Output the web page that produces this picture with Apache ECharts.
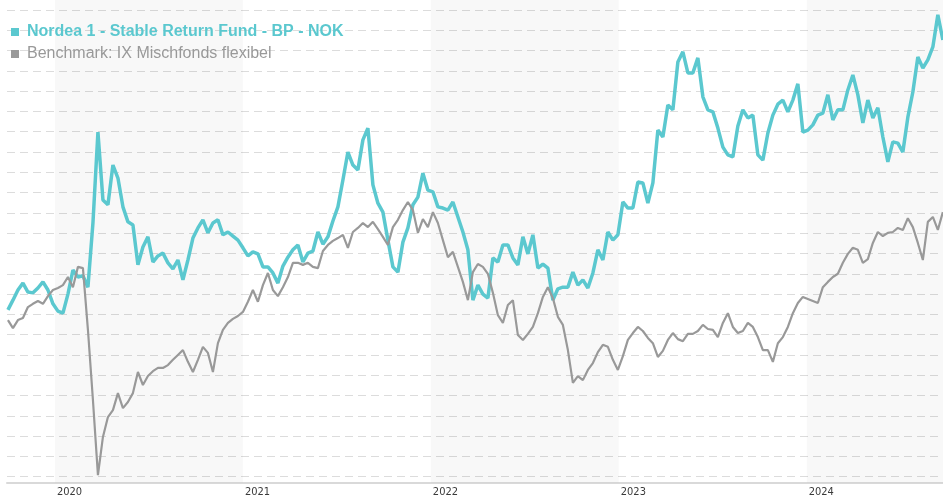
<!DOCTYPE html>
<html>
<head>
<meta charset="utf-8">
<script src="https://cdn.jsdelivr.net/npm/echarts@6/dist/echarts.min.js"></script>
<style>
  html, body { margin: 0; padding: 0; background: #fff; }
  #chart { width: 943px; height: 500px; }
</style>
</head>
<body>
<div id="chart"></div>
<script>
  // Wertentwicklung (indexiert), Stuetzpunkte ca. alle 9,7 Tage ab Okt. 2019
  var startYear = 2019.75;
  var stepYears = 0.0266;
  var xMin = 2019.745;
  var xMax = 2024.725;
  var yearTicks = [2020, 2021, 2022, 2023, 2024];
  var shadedYears = [2020, 2022, 2024];

  var fundName = 'Nordea 1 - Stable Return Fund - BP - NOK';
  var benchName = 'Benchmark: IX Mischfonds flexibel';

  var fundValues = [
    101.1, 103.5, 106.0, 107.7, 105.5, 105.3, 106.5, 108.0, 106.0, 102.6,
    100.8, 100.3, 105.0, 110.9, 109.2, 109.5, 106.7, 122.5, 144.9, 128.2,
    127.0, 136.8, 133.6, 126.5, 122.8, 122.0, 112.2, 116.6, 119.1, 112.9,
    114.4, 115.1, 112.7, 111.2, 113.4, 108.5, 113.4, 118.8, 121.3, 123.3,
    120.1, 122.5, 123.3, 119.6, 120.3, 119.3, 118.3, 116.4, 114.4, 115.4,
    114.9, 111.7, 111.7, 110.2, 107.7, 111.9, 114.1, 115.9, 117.1, 112.9,
    115.1, 115.6, 120.3, 117.3, 119.1, 123.0, 126.5, 133.1, 140.0, 136.8,
    135.6, 143.0, 145.9, 131.9, 127.4, 125.2, 118.3, 111.7, 110.4, 117.8,
    121.3, 127.0, 128.9, 134.8, 130.6, 130.2, 126.5, 126.2, 125.7, 127.7,
    124.0, 120.3, 115.9, 103.5, 107.2, 105.0, 104.0, 113.9, 112.9, 117.1,
    117.1, 113.9, 112.2, 119.1, 114.9, 119.6, 111.4, 112.4, 111.4, 103.5,
    106.3, 106.7, 106.7, 110.4, 107.2, 108.5, 106.5, 110.2, 115.9, 113.4,
    120.3, 118.3, 119.6, 127.7, 126.2, 126.2, 132.6, 132.4, 127.4, 132.4,
    145.4, 143.7, 151.6, 150.4, 162.2, 164.7, 159.5, 159.5, 163.2, 153.6,
    150.4, 149.9, 145.9, 141.2, 139.3, 138.8, 146.4, 150.4, 148.4, 149.1,
    139.3, 138.0, 144.7, 149.1, 151.8, 152.8, 149.9, 152.8, 156.8, 144.9,
    145.4, 146.7, 149.1, 149.6, 154.1, 147.9, 150.4, 150.4, 155.3, 159.0,
    154.1, 147.2, 152.8, 148.4, 150.9, 143.7, 137.6, 142.5, 142.2, 140.0,
    148.6, 154.8, 163.4, 160.7, 162.7, 165.9, 173.8, 167.6
  ];

  var benchValues = [
    98.6, 96.6, 98.6, 99.1, 101.8, 102.6, 103.3, 102.6, 104.5, 106.0,
    106.5, 107.2, 109.2, 106.7, 111.7, 111.4, 96.2, 78.9, 60.4, 69.8,
    74.7, 76.4, 80.6, 76.9, 78.4, 80.6, 85.8, 82.6, 84.8, 86.0,
    86.8, 86.8, 87.5, 88.8, 90.0, 91.2, 88.3, 85.8, 88.8, 92.0,
    90.5, 85.8, 92.9, 96.2, 97.9, 98.9, 99.6, 100.6, 103.1, 106.0,
    103.1, 107.2, 110.2, 106.0, 104.5, 106.7, 109.2, 112.7, 112.7, 112.2,
    112.7, 111.7, 111.4, 115.6, 117.1, 118.1, 118.8, 119.6, 116.4, 120.3,
    121.3, 122.5, 121.5, 122.8, 121.0, 119.1, 117.1, 121.5, 123.3, 125.7,
    127.7, 125.7, 120.1, 123.5, 121.5, 125.2, 122.5, 118.3, 114.1, 115.4,
    111.7, 108.0, 103.5, 110.4, 112.4, 111.7, 110.0, 105.3, 99.8, 97.9,
    102.3, 103.5, 94.9, 93.7, 95.2, 96.9, 100.3, 104.3, 106.7, 104.0,
    99.4, 97.4, 91.2, 83.1, 84.8, 83.8, 86.3, 88.0, 90.7, 92.5,
    92.0, 88.8, 86.3, 89.7, 93.7, 95.4, 96.9, 95.9, 94.2, 92.9,
    89.5, 91.0, 93.7, 95.4, 93.9, 93.4, 95.2, 95.2, 95.9, 97.4,
    96.4, 96.2, 94.4, 97.9, 100.3, 96.9, 95.4, 95.9, 97.9, 96.9,
    94.4, 91.2, 91.2, 88.3, 92.9, 94.4, 96.9, 100.3, 102.8, 104.3,
    103.8, 103.3, 102.8, 106.7, 108.0, 109.2, 110.0, 112.7, 114.9, 116.4,
    115.9, 112.7, 113.6, 117.6, 120.3, 119.3, 120.1, 120.3, 121.3, 120.8,
    123.7, 121.5, 117.6, 113.4, 122.8, 124.0, 120.8, 125.2
  ];

  function toPairs(values) {
    return values.map(function (v, i) {
      return [startYear + i * stepYears, v];
    });
  }

  var bands = shadedYears.map(function (y) {
    return [{ xAxis: y, yAxis: 0 }, { xAxis: Math.min(y + 1, xMax), yAxis: 1 }];
  });

  var chart = echarts.init(document.getElementById('chart'));

  chart.setOption({
    animation: false,
    legend: {
      orient: 'vertical',
      left: 6,
      top: 19,
      itemWidth: 8,
      itemHeight: 8,
      itemGap: 6,
      icon: 'rect',
      selectedMode: false,
      textStyle: {
        fontSize: 16,
        fontFamily: 'Liberation Sans, Arial, sans-serif',
        padding: [0, 0, 0, 3]
      },
      data: [
        { name: fundName, textStyle: { color: '#5bc8cf', fontWeight: 'bold' } },
        { name: benchName, textStyle: { color: '#999999' } }
      ]
    },
    grid: [
      { left: 7, right: 0, top: 10, bottom: 23.3 },
      { left: 7, right: 0, top: 0, bottom: 17.5 }
    ],
    xAxis: [
      {
        type: 'value',
        gridIndex: 0,
        min: xMin,
        max: xMax,
        offset: 6,
        axisLine: { onZero: false, lineStyle: { color: '#d9d9d9', width: 2 } },
        axisTick: { show: false },
        splitLine: { show: false },
        axisLabel: {
          customValues: yearTicks,
          formatter: function (v) { return String(v); },
          align: 'left',
          margin: 4,
          padding: [0, 0, 0, 2],
          color: '#3a3a3a',
          fontSize: 11,
          fontFamily: 'DejaVu Sans Condensed, Liberation Sans Narrow, sans-serif'
        }
      },
      { type: 'value', gridIndex: 1, min: xMin, max: xMax, show: false }
    ],
    yAxis: [
      {
        type: 'value',
        gridIndex: 0,
        min: 60,
        max: 175,
        interval: 5,
        axisLine: { show: false },
        axisTick: { show: false },
        axisLabel: { show: false },
        splitLine: { lineStyle: { color: '#dcdcdc', type: [8, 5], width: 1 } }
      },
      { type: 'value', gridIndex: 1, min: 0, max: 1, show: false }
    ],
    series: [
      {
        name: 'bands',
        type: 'line',
        xAxisIndex: 1,
        yAxisIndex: 1,
        data: [[xMin, 0]],
        symbol: 'none',
        silent: true,
        z: 1,
        lineStyle: { opacity: 0 },
        markArea: {
          silent: true,
          itemStyle: { color: 'rgba(0,0,0,0.028)' },
          data: bands
        }
      },
      {
        name: fundName,
        type: 'line',
        data: toPairs(fundValues),
        showSymbol: false,
        color: '#5bc8cf',
        lineStyle: { width: 3.5, color: '#5bc8cf' },
        z: 3
      },
      {
        name: benchName,
        type: 'line',
        data: toPairs(benchValues),
        showSymbol: false,
        color: '#999999',
        lineStyle: { width: 2.2, color: '#999999' },
        z: 4
      }
    ]
  });
</script>
</body>
</html>
